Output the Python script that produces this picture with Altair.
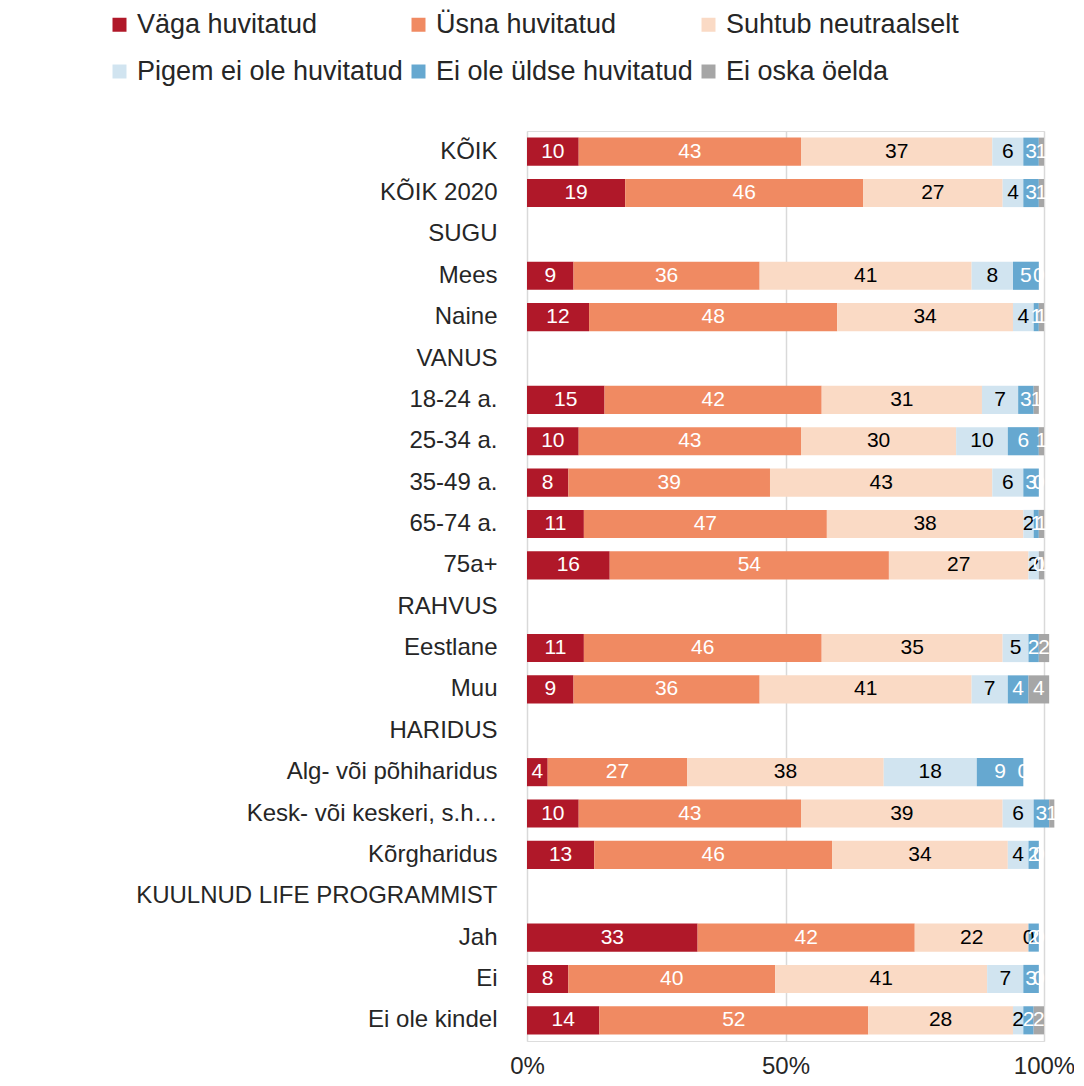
import altair as alt
import pandas as pd

categories = [
    "KÕIK", "KÕIK 2020", "SUGU", "Mees", "Naine", "VANUS",
    "18-24 a.", "25-34 a.", "35-49 a.", "65-74 a.", "75a+",
    "RAHVUS", "Eestlane", "Muu", "HARIDUS",
    "Alg- või põhiharidus", "Kesk- või keskeri, s.h…", "Kõrgharidus",
    "KUULNUD LIFE PROGRAMMIST", "Jah", "Ei", "Ei ole kindel",
]

series = [
    "Väga huvitatud", "Üsna huvitatud", "Suhtub neutraalselt",
    "Pigem ei ole huvitatud", "Ei ole üldse huvitatud", "Ei oska öelda",
]
colors = ["#B01829", "#F08A62", "#FADAC5", "#D1E4F0", "#66A8D0", "#A6A6A6"]

N = None
vaga =     [10, 19, N,  9, 12, N, 15, 10,  8, 11, 16, N, 11,  9, N,  4, 10, 13, N, 33,  8, 14]
usna =     [43, 46, N, 36, 48, N, 42, 43, 39, 47, 54, N, 46, 36, N, 27, 43, 46, N, 42, 40, 52]
neutraal = [37, 27, N, 41, 34, N, 31, 30, 43, 38, 27, N, 35, 41, N, 38, 39, 34, N, 22, 41, 28]
pigem =    [ 6,  4, N,  8,  4, N,  7, 10,  6,  2,  2, N,  5,  7, N, 18,  6,  4, N,  0,  7,  2]
uldse =    [ 3,  3, N,  5,  1, N,  3,  6,  3,  1,  0, N,  2,  4, N,  9,  3,  2, N,  2,  3,  2]
oska =     [ 1,  1, N,  0,  1, N,  1,  1,  0,  1,  1, N,  2,  4, N,  0,  1,  0, N,  0,  0,  2]

cols = [vaga, usna, neutraal, pigem, uldse, oska]
rows = []
for i, cat in enumerate(categories):
    for j, s in enumerate(series):
        v = cols[j][i]
        if v is None:
            continue
        rows.append({"cat": cat, "series": s, "order": j, "value": v})
df = pd.DataFrame(rows)

FONT = "Liberation Sans"

base = alt.Chart(df).transform_stack(
    stack="value", groupby=["cat"], as_=["x0", "x1"],
    sort=[alt.SortField("order", order="ascending")],
).transform_calculate(mid="(datum.x0 + datum.x1) / 2")

yenc = alt.Y(
    "cat:N",
    sort=categories,
    scale=alt.Scale(domain=categories, paddingInner=0.32, paddingOuter=0.16),
    axis=alt.Axis(
        title=None, labelFontSize=24, labelColor="#262626", labelFont=FONT,
        ticks=False, domain=False, labelPadding=30, labelLimit=600,
    ),
)

xscale = alt.Scale(domain=[0, 100], nice=False, zero=True)

bars = base.mark_bar().encode(
    y=yenc,
    x=alt.X(
        "x0:Q", scale=xscale,
        axis=alt.Axis(
            title=None, values=[0, 50, 100], labelExpr="datum.value + '%'",
            labelFontSize=24, labelFont=FONT, labelColor="#262626",
            labelFlush=False,
            ticks=False, domain=False, grid=True, gridColor="#D9D9D9",
            gridWidth=1.5, labelPadding=13,
        ),
    ),
    x2="x1:Q",
    color=alt.Color(
        "series:N",
        scale=alt.Scale(domain=series, range=colors),
        sort=series,
        legend=alt.Legend(
            title=None, orient="none", legendX=-421, legendY=-120,
            direction="horizontal",
            columns=3, symbolType="square", symbolSize=196,
            symbolStrokeWidth=0, labelFontSize=27, labelFont=FONT,
            labelColor="#262626", columnPadding=2, rowPadding=19,
            labelOffset=4, labelLimit=400,
        ),
    ),
    order=alt.Order("order:Q"),
)

labels = base.mark_text(fontSize=21, font=FONT, baseline="middle", align="center").encode(
    y=alt.Y("cat:N", sort=categories),
    x=alt.X("mid:Q", scale=xscale),
    text=alt.Text("value:Q"),
    color=alt.condition(
        "datum.series == 'Suhtub neutraalselt' || datum.series == 'Pigem ei ole huvitatud'",
        alt.value("#000000"),
        alt.value("#FFFFFF"),
    ),
)

chart = (
    alt.layer(bars, labels)
    .properties(
        width=517, height=910,
        autosize=alt.AutoSizeParams(type="none"),
        padding={"left": 519, "top": 123, "right": 30, "bottom": 45},
    )
    .configure_view(stroke=None)
    .configure(background="white")
)

chart.save("out.html", embed_options={"renderer": "svg", "actions": False})
